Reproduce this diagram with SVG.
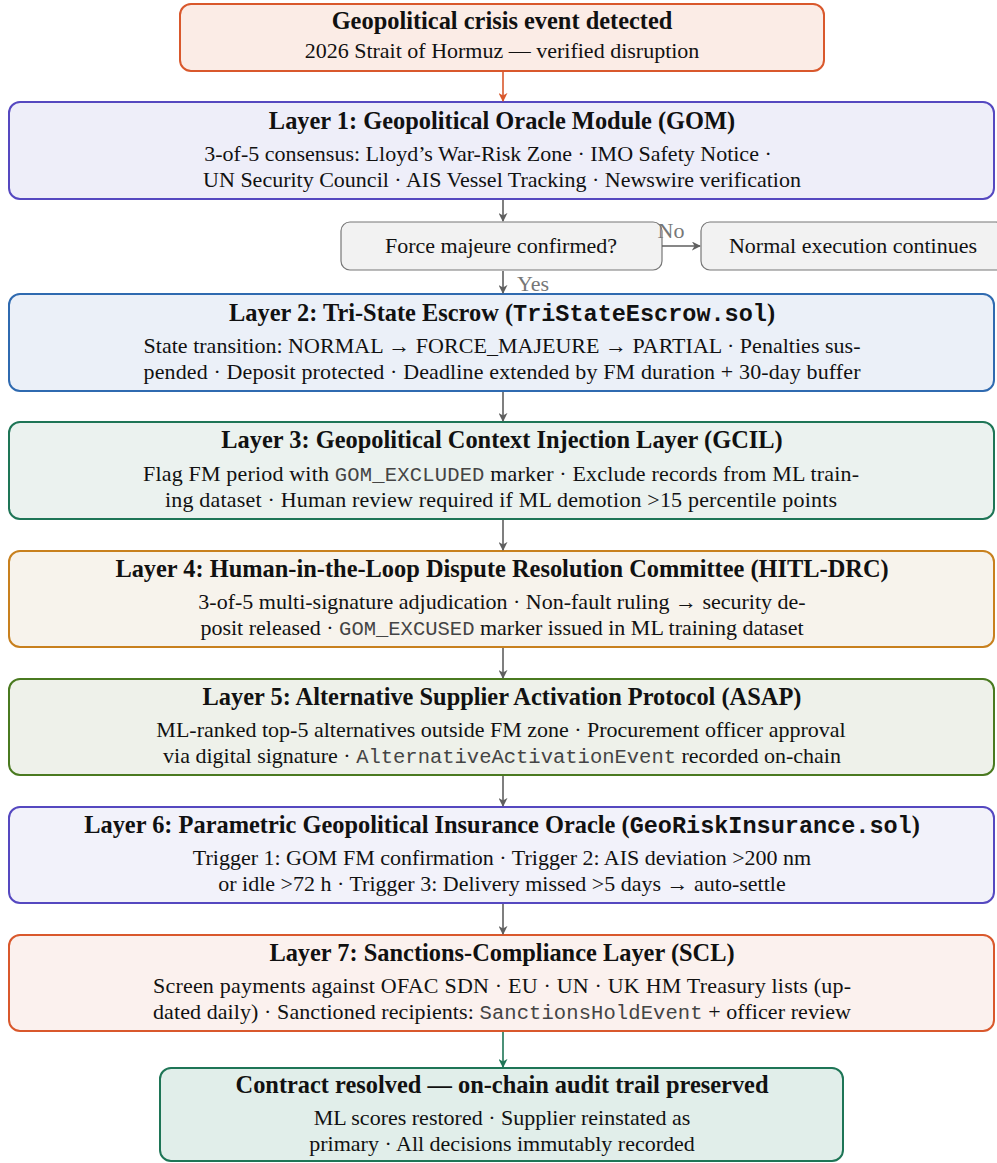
<svg xmlns="http://www.w3.org/2000/svg" width="997" height="1163" viewBox="0 0 997 1163">
<defs>
<marker id="ag" viewBox="0 0 10 10" refX="9" refY="5" markerWidth="9" markerHeight="9" markerUnits="userSpaceOnUse" orient="auto"><path d="M0,0 L10,5 L0,10 L3,5 Z" fill="#5f5f5f"/></marker>
<marker id="ao" viewBox="0 0 10 10" refX="9" refY="5" markerWidth="9" markerHeight="9" markerUnits="userSpaceOnUse" orient="auto"><path d="M0,0 L10,5 L0,10 L3,5 Z" fill="#d9582c"/></marker>
<marker id="at" viewBox="0 0 10 10" refX="9" refY="5" markerWidth="9" markerHeight="9" markerUnits="userSpaceOnUse" orient="auto"><path d="M0,0 L10,5 L0,10 L3,5 Z" fill="#1e7556"/></marker>
</defs>
<style>
text{font-family:"Liberation Serif","Times New Roman",serif;fill:#111;text-anchor:middle}
.t{font-size:24.4px;font-weight:bold}
.b{font-size:22px}
.m{font-family:"Liberation Mono","Courier New",monospace;fill:#444;font-size:20.5px}
.mb{font-family:"Liberation Mono","Courier New",monospace;font-weight:bold;font-size:23.5px}
.box{stroke-width:2}
.c{fill:none;stroke:#5f5f5f;stroke-width:1.6}
.lbl{font-size:22px;fill:#777}
</style>
<g id="crisis"><rect class="box" x="180" y="4" width="644" height="67" rx="11" fill="#fbece6" stroke="#d9582c"/>
<text class="t" x="502" y="29">Geopolitical crisis event detected</text>
<text class="b" x="502" y="58">2026 Strait of Hormuz — verified disruption</text></g>

<g id="layer1"><rect class="box" x="9" y="102" width="985" height="97" rx="11" fill="#eeeef9" stroke="#5548c0"/>
<text class="t" x="502" y="129">Layer 1: Geopolitical Oracle Module (GOM)</text>
<text class="b" x="488" y="161">3-of-5 consensus: Lloyd’s War-Risk Zone · IMO Safety Notice ·</text>
<text class="b" x="502" y="187">UN Security Council · AIS Vessel Tracking · Newswire verification</text></g>

<g id="decision"><rect x="341" y="222" width="321" height="48" rx="9" fill="#f2f2f2" stroke="#777" stroke-width="1.2"/>
<text class="b" x="501" y="253">Force majeure confirmed?</text></g>

<g id="normal"><rect x="701" y="222" width="304" height="48" rx="9" fill="#f2f2f2" stroke="#777" stroke-width="1.2"/>
<text class="b" x="853" y="253">Normal execution continues</text></g>

<g id="layer2"><rect class="box" x="9" y="294" width="985" height="97" rx="11" fill="#ebf0f8" stroke="#2f6ab0"/>
<text class="t" x="502" y="321">Layer 2: Tri-State Escrow (<tspan class="mb">TriStateEscrow.sol</tspan>)</text>
<text class="b" x="502" y="353" textLength="717" lengthAdjust="spacing">State transition: NORMAL → FORCE_MAJEURE → PARTIAL · Penalties sus-</text>
<text class="b" x="502" y="379" textLength="717" lengthAdjust="spacing">pended · Deposit protected · Deadline extended by FM duration + 30-day buffer</text></g>

<g id="layer3"><rect class="box" x="9" y="422" width="985" height="97" rx="11" fill="#ebf2ef" stroke="#1e7556"/>
<text class="t" x="502" y="448">Layer 3: Geopolitical Context Injection Layer (GCIL)</text>
<text class="b" x="501" y="481" textLength="716" lengthAdjust="spacing">Flag FM period with <tspan class="m">GOM_EXCLUDED</tspan> marker · Exclude records from ML train-</text>
<text class="b" x="501" y="507" textLength="672" lengthAdjust="spacing">ing dataset · Human review required if ML demotion &gt;15 percentile points</text></g>

<g id="layer4"><rect class="box" x="9" y="551" width="985" height="96" rx="11" fill="#f7f3ec" stroke="#c8801e"/>
<text class="t" x="502" y="577">Layer 4: Human-in-the-Loop Dispute Resolution Committee (HITL-DRC)</text>
<text class="b" x="502" y="609">3-of-5 multi-signature adjudication · Non-fault ruling → security de-</text>
<text class="b" x="502" y="635">posit released · <tspan class="m">GOM_EXCUSED</tspan> marker issued in ML training dataset</text></g>

<g id="layer5"><rect class="box" x="9" y="679" width="985" height="96" rx="11" fill="#eef1ea" stroke="#4a7a20"/>
<text class="t" x="502" y="705">Layer 5: Alternative Supplier Activation Protocol (ASAP)</text>
<text class="b" x="501" y="737">ML-ranked top-5 alternatives outside FM zone · Procurement officer approval</text>
<text class="b" x="502" y="763">via digital signature · <tspan class="m">AlternativeActivationEvent</tspan> recorded on-chain</text></g>

<g id="layer6"><rect class="box" x="9" y="807" width="985" height="96" rx="11" fill="#f2f2fa" stroke="#5548c0"/>
<text class="t" x="502" y="833">Layer 6: Parametric Geopolitical Insurance Oracle (<tspan class="mb">GeoRiskInsurance.sol</tspan>)</text>
<text class="b" x="502" y="865">Trigger 1: GOM FM confirmation · Trigger 2: AIS deviation &gt;200 nm</text>
<text class="b" x="502" y="891">or idle &gt;72 h · Trigger 3: Delivery missed &gt;5 days → auto-settle</text></g>

<g id="layer7"><rect class="box" x="9" y="935" width="985" height="96" rx="11" fill="#fbf1ee" stroke="#d9582c"/>
<text class="t" x="502" y="961">Layer 7: Sanctions-Compliance Layer (SCL)</text>
<text class="b" x="502" y="993" textLength="698" lengthAdjust="spacing">Screen payments against OFAC SDN · EU · UN · UK HM Treasury lists (up-</text>
<text class="b" x="502" y="1019" textLength="698" lengthAdjust="spacing">dated daily) · Sanctioned recipients: <tspan class="m">SanctionsHoldEvent</tspan> + officer review</text></g>

<g id="resolved"><rect class="box" x="160" y="1068" width="683" height="93" rx="11" fill="#e1eeea" stroke="#1e7556"/>
<text class="t" x="502" y="1093">Contract resolved — on-chain audit trail preserved</text>
<text class="b" x="502" y="1125">ML scores restored · Supplier reinstated as</text>
<text class="b" x="502" y="1151">primary · All decisions immutably recorded</text></g>

<g id="connectors">
<line x1="503" y1="72" x2="503" y2="101" stroke="#d9582c" stroke-width="1.6" marker-end="url(#ao)"/>
<line class="c" x1="503" y1="200" x2="503" y2="221" marker-end="url(#ag)"/>
<line class="c" x1="662" y1="246" x2="700" y2="246" marker-end="url(#ag)"/>
<text class="lbl" x="671" y="238">No</text>
<line class="c" x1="503" y1="271" x2="503" y2="293" marker-end="url(#ag)"/>
<text class="lbl" x="533" y="291">Yes</text>
<line class="c" x1="503" y1="392" x2="503" y2="421" marker-end="url(#ag)"/>
<line class="c" x1="503" y1="520" x2="503" y2="550" marker-end="url(#ag)"/>
<line class="c" x1="503" y1="648" x2="503" y2="678" marker-end="url(#ag)"/>
<line class="c" x1="503" y1="776" x2="503" y2="806" marker-end="url(#ag)"/>
<line class="c" x1="503" y1="904" x2="503" y2="934" marker-end="url(#ag)"/>
<line x1="503" y1="1032" x2="503" y2="1067" stroke="#1e7556" stroke-width="1.6" marker-end="url(#at)"/>
</g>
</svg>
